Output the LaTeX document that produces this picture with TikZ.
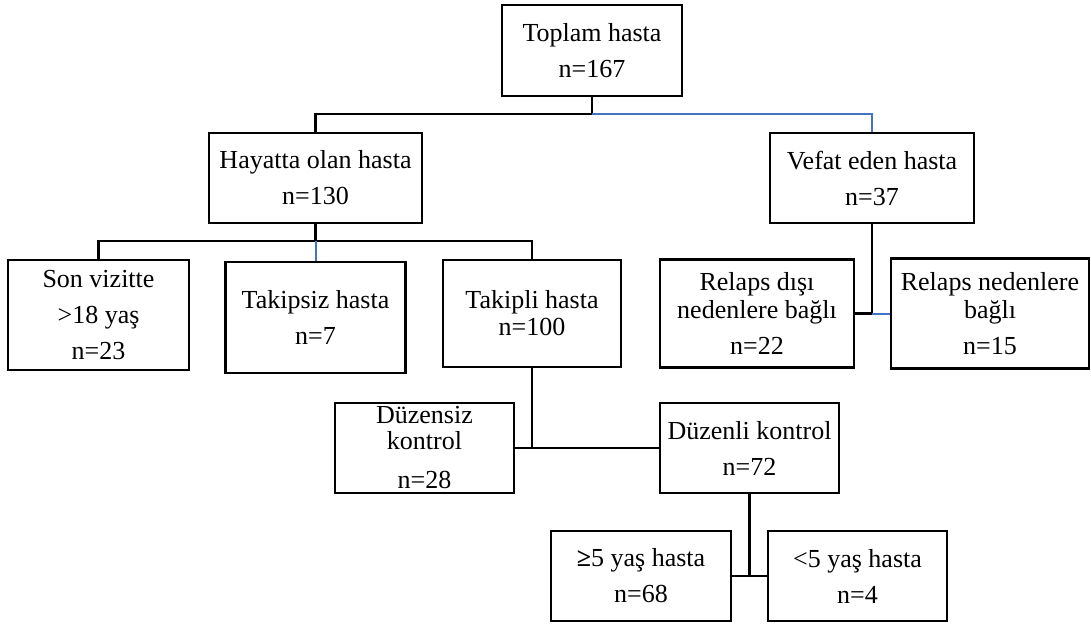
\documentclass[tikz,border=0pt]{standalone}
\usepackage{fontspec}
\setmainfont{Liberation Serif}
\usepackage{xcolor}
\usepackage{tikz}
\usetikzlibrary{positioning}

\definecolor{linkblue}{RGB}{68,114,196}
\tikzset{
    box/.style={draw, line width=1.3pt, align=center, inner sep=0pt, font=\fontsize{13}{18}\selectfont},
    link/.style={line width=1.1pt},
    bluelink/.style={line width=1pt, draw=linkblue},
}

\begin{document}
\begin{tikzpicture}[x=0.5pt, y=-0.5pt]
                \useasboundingbox (0, 0) rectangle (1091, 623);
                \node[box, minimum width=90pt, minimum height=45.5pt] (top) at (592, 50.5) {Toplam hasta\\n=167};
                \node[box, minimum width=106.5pt, minimum height=45pt] (alive) at (315.5, 178) {Hayatta olan hasta\\n=130};
                \node[box, minimum width=102pt, minimum height=45pt] (dead) at (872, 178) {Vefat eden hasta\\n=37};
                \node[box, minimum width=90.5pt, minimum height=55pt] (son) at (98.5, 315) {Son vizitte\\>18 yaş\\n=23};
                \node[box, minimum width=90pt, minimum height=55.5pt] (unfol) at (315.5, 317.5) {Takipsiz hasta\\n=7};
                \node[box, minimum width=89pt, minimum height=53.5pt] (fol) at (532, 313.5) {Takipli hasta\\[-4.5pt]n=100};
                \node[box, minimum width=97pt, minimum height=54pt] (nonrel) at (757, 313.5) {Relaps dışı\\[-4pt]nedenlere bağlı\\n=22};
                \node[box, minimum width=99pt, minimum height=55pt] (rel) at (990, 313.5) {Relaps nedenlere\\[-4pt]bağlı\\n=15};
                \node[box, minimum width=89.5pt, minimum height=45pt] (irreg) at (424.5, 448) {Düzensiz\\[-5pt]kontrol\\[1.5pt]n=28};
                \node[box, minimum width=89.5pt, minimum height=45pt] (reg) at (749.5, 448) {Düzenli kontrol\\n=72};
                \node[box, minimum width=90pt, minimum height=45pt] (ge5) at (641, 576) {\textbf{≥}5 yaş hasta\\n=68};
                \node[box, minimum width=89.5pt, minimum height=45pt] (lt5) at (857.5, 576) {<5 yaş hasta\\n=4};

                \coordinate (j1) at (592, 114);
                \coordinate (j2) at (315.5, 241);

                \draw[link] (top.south) -- (j1) -| (alive.north);
                \draw[bluelink] (j1) -| (dead.north);
                \draw[link] (alive.south) -- (j2);
                \draw[link] (son.north) |- (j2) -| (fol.north);
                \draw[bluelink] (j2) -- (unfol.north);
                \draw[link] (dead.south) |- (nonrel.east);
                \draw[bluelink] (dead.south |- rel.west) -- (rel.west);
                \draw[link] (fol.south) |- (irreg.east);
                \draw[link] (irreg.east) -- (reg.west);
                \draw[link] (reg.south) |- (ge5.east);
                \draw[link] (ge5.east) -- (lt5.west);
            \end{tikzpicture}
\end{document}
